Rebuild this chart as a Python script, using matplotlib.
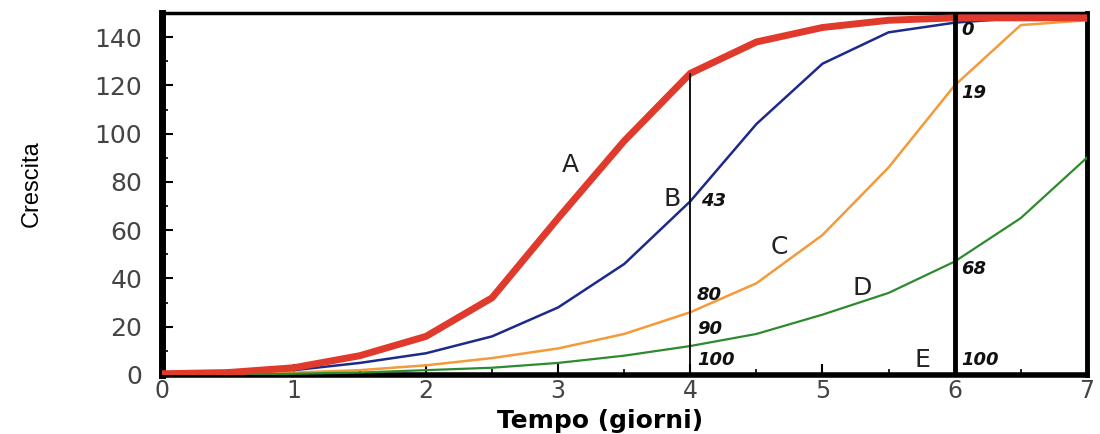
import numpy as np
import matplotlib.pyplot as plt
from matplotlib.ticker import MultipleLocator

# tempo (giorni) e curve di crescita
tempo = [0, 0.5, 1, 1.5, 2, 2.5, 3, 3.5, 4, 4.5, 5, 5.5, 6, 6.5, 7]
curva_a = [0.5, 1, 3, 8, 16, 32, 65, 97, 125, 138, 144, 147, 148, 148, 148]
curva_b = [0.3, 0.5, 2, 5, 9, 16, 28, 46, 72, 104, 129, 142, 146, 148, 148]
curva_c = [0, 0.2, 1, 2, 4, 7, 11, 17, 26, 38, 58, 86, 120, 145, 147]
curva_d = [0, 0.1, 0.5, 1, 2, 3, 5, 8, 12, 17, 25, 34, 47, 65, 90]

lettere = ["A", "B", "C", "D", "E"]
lettere_xy = [(3.09, 87), (3.86, 73), (4.67, 53), (5.30, 36), (5.76, 6)]
numeri = ["43", "80", "90", "100", "0", "19", "68", "100"]
numeri_xy = [(4.08, 72), (4.05, 33), (4.05, 19), (4.05, 6),
             (6.05, 143), (6.05, 117), (6.05, 44), (6.05, 6)]

plt.rcParams['font.family'] = ['DejaVu Sans']

fig = plt.figure(figsize=(11, 4.34), dpi=100)
ax = fig.add_axes([0.147, 0.136, 0.841, 0.834])

ax.plot(tempo, curva_a, color="#e03a2c", lw=5, solid_joinstyle="miter", zorder=4)
ax.plot(tempo, curva_b, color="#1c2a8c", lw=1.8, zorder=3)
ax.plot(tempo, curva_c, color="#f39a3a", lw=1.8, zorder=3)
ax.plot(tempo, curva_d, color="#2e8a2e", lw=1.6, zorder=3)

# linee verticali a 4 e 6 giorni
ax.vlines(4, 0, curva_a[tempo.index(4)], color="black", lw=1.3, zorder=5)
ax.axvline(6, color="black", lw=3.5, zorder=5)

for t, (x, y) in zip(lettere, lettere_xy):
    ax.text(x, y, t, fontsize=18, color="#222222", ha="center", va="center")
for t, (x, y) in zip(numeri, numeri_xy):
    ax.text(x, y, t, fontsize=13, fontstyle="italic", fontweight="bold",
            color="#111111", ha="left", va="center", zorder=6)

ax.set_xlim(0, 7)
ax.set_ylim(0, 150)
ax.xaxis.set_major_locator(MultipleLocator(1))
ax.xaxis.set_minor_locator(MultipleLocator(0.5))
ax.yaxis.set_major_locator(MultipleLocator(20))
ax.yaxis.set_minor_locator(MultipleLocator(10))
ax.set_yticks(range(0, 141, 20))
ax.tick_params(which="both", direction="in", top=False, right=False,
               labelsize=18, labelcolor="#444444")
ax.tick_params(which="major", length=8, width=1.5)
ax.tick_params(which="minor", length=4, width=1.2)
ax.tick_params(axis="x", pad=3, labelsize=17)
ax.tick_params(axis="y", pad=14)

ax.spines["left"].set_linewidth(5)
ax.spines["bottom"].set_linewidth(4)
ax.spines["top"].set_linewidth(2.5)
ax.spines["right"].set_linewidth(3.5)

ax.set_ylabel("Crescita", fontsize=17, family="Liberation Sans")
ax.yaxis.set_label_coords(-0.129, 0.53)
ax.set_xlabel("Tempo (giorni)", fontsize=18, fontweight="bold")
ax.xaxis.set_label_coords(0.474, -0.127)
ax.xaxis.label.set_va("center")

fig.savefig("out.png", dpi=100)
